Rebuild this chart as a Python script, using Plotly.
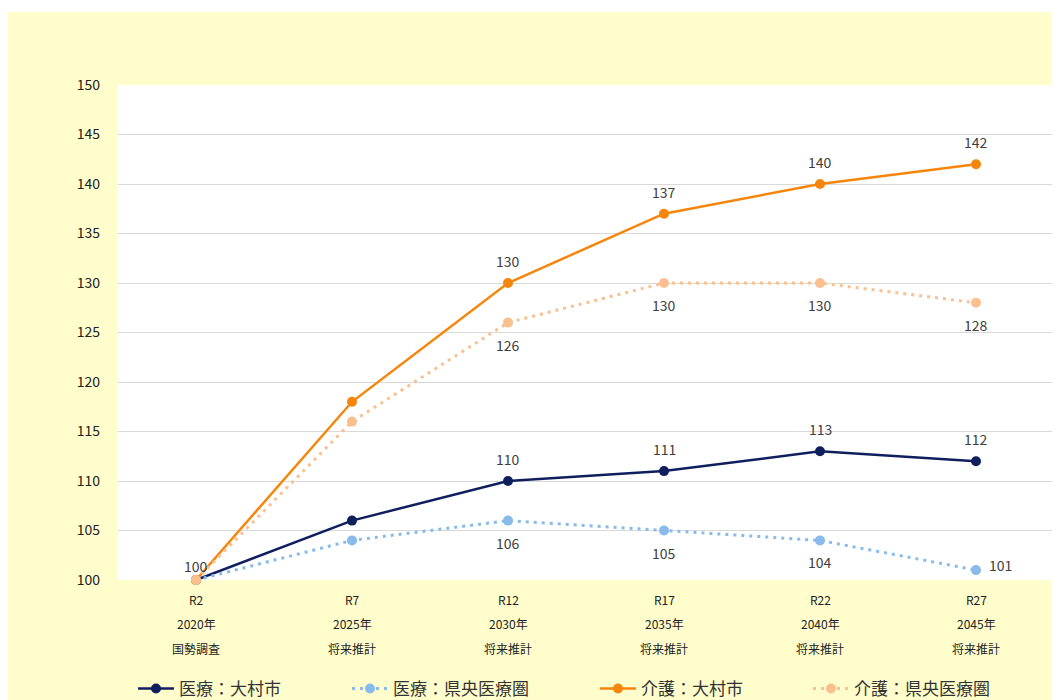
import plotly.graph_objects as go

categories = ["R2", "R7", "R12", "R17", "R22", "R27"]
years = ["2020年", "2025年", "2030年", "2035年", "2040年", "2045年"]
notes = ["国勢調査", "将来推計", "将来推計", "将来推計", "将来推計", "将来推計"]

iryo_omura = [100, 106, 110, 111, 113, 112]
iryo_kenou = [100, 104, 106, 105, 104, 101]
kaigo_omura = [100, 118, 130, 137, 140, 142]
kaigo_kenou = [100, 116, 126, 130, 130, 128]

y_ticks = [100, 105, 110, 115, 120, 125, 130, 135, 140, 145, 150]

FONT = "Noto Sans CJK JP"
LABEL_COLOR = "#404040"

# figure is placed by the page at (8, 8); coordinates below are figure pixels
W, H = 1052, 692
PLOT_L, PLOT_R, PLOT_T, PLOT_B = 110, 1046, 77, 572
PW = PLOT_R - PLOT_L
PH = PLOT_B - PLOT_T

fig = go.Figure()

# name, values, colour, dash, label flags, label placement, legend id, legend x (px)
series = [
    ("医療：大村市", iryo_omura, "#0F1F5E", "solid",
     [False, False, True, True, True, True], ["above"] * 6, "legend", 125),
    ("医療：県央医療圏", iryo_kenou, "#88BBEA", "3px,5px",
     [False, False, True, True, True, True], ["below"] * 5 + ["right"], "legend2", 339),
    ("介護：大村市", kaigo_omura, "#F6860B", "solid",
     [True, False, True, True, True, True], ["above0"] + ["above"] * 5, "legend3", 587),
    ("介護：県央医療圏", kaigo_kenou, "#FAC08F", "3px,5px",
     [False, False, True, True, True, True], ["below"] * 6, "legend4", 800),
]

shifts = {"above": (0, 22), "above0": (0, 14), "below": (0, -22), "right": (24, 5)}

legend_layouts = {}
for name, vals, color, dash, show, place, leg, lx in series:
    fig.add_trace(go.Scatter(
        x=categories, y=vals, name=name,
        mode="lines+markers",
        line=dict(color=color, width=2.5 if dash == "solid" else 3, dash=dash),
        marker=dict(color=color, size=10),
        legend=leg,
        cliponaxis=False,
    ))
    for c, v, s, p in zip(categories, vals, show, place):
        if not s:
            continue
        dx, dy = shifts[p]
        fig.add_annotation(x=c, y=v, xref="x", yref="y", text=str(v),
                           showarrow=False, xshift=dx, yshift=dy,
                           xanchor="center", yanchor="middle",
                           font=dict(family=FONT, size=14, color=LABEL_COLOR))
    legend_layouts[leg] = dict(
        orientation="h", x=(lx - PLOT_L) / PW, xanchor="left",
        y=(PLOT_B - 681) / PH, yanchor="middle",
        font=dict(family=FONT, size=17, color="#333333"),
        bgcolor="rgba(0,0,0,0)", itemwidth=36,
    )

# category labels (three lines)
for c, yr, nt in zip(categories, years, notes):
    for txt, shift in ((c, -19), (yr, -43), (nt, -68)):
        fig.add_annotation(x=c, y=0, xref="x", yref="paper", text=txt,
                           showarrow=False, yshift=shift, yanchor="middle",
                           font=dict(family=FONT, size=12, color="#222222"))

# thin white strip at the top of the page
fig.add_shape(type="rect", xref="paper", yref="paper",
              x0=-0.2, x1=1.1, y0=1 + (PLOT_T - 4) / PH, y1=1 + (PLOT_T + 5) / PH,
              fillcolor="white", line=dict(width=0), layer="below")

fig.update_layout(
    width=W, height=H,
    margin=dict(l=PLOT_L, r=W - PLOT_R, t=PLOT_T, b=H - PLOT_B, pad=0,
                autoexpand=False),
    paper_bgcolor="#FEFDCB",
    plot_bgcolor="white",
    font=dict(family=FONT, color="#333333"),
    showlegend=True,
    **legend_layouts,
)

fig.update_xaxes(type="category", showticklabels=False, showgrid=False,
                 zeroline=False, showline=False, range=[-0.5, 5.5])
fig.update_yaxes(range=[100, 150], tickvals=y_ticks, ticktext=[str(v) for v in y_ticks],
                 showgrid=True, gridcolor="#D9D9D9", gridwidth=1,
                 zeroline=False, showline=False, ticks="",
                 tickfont=dict(family=FONT, size=14, color="#222222"),
                 ticklabelstandoff=17)

fig.write_html("out.html")
